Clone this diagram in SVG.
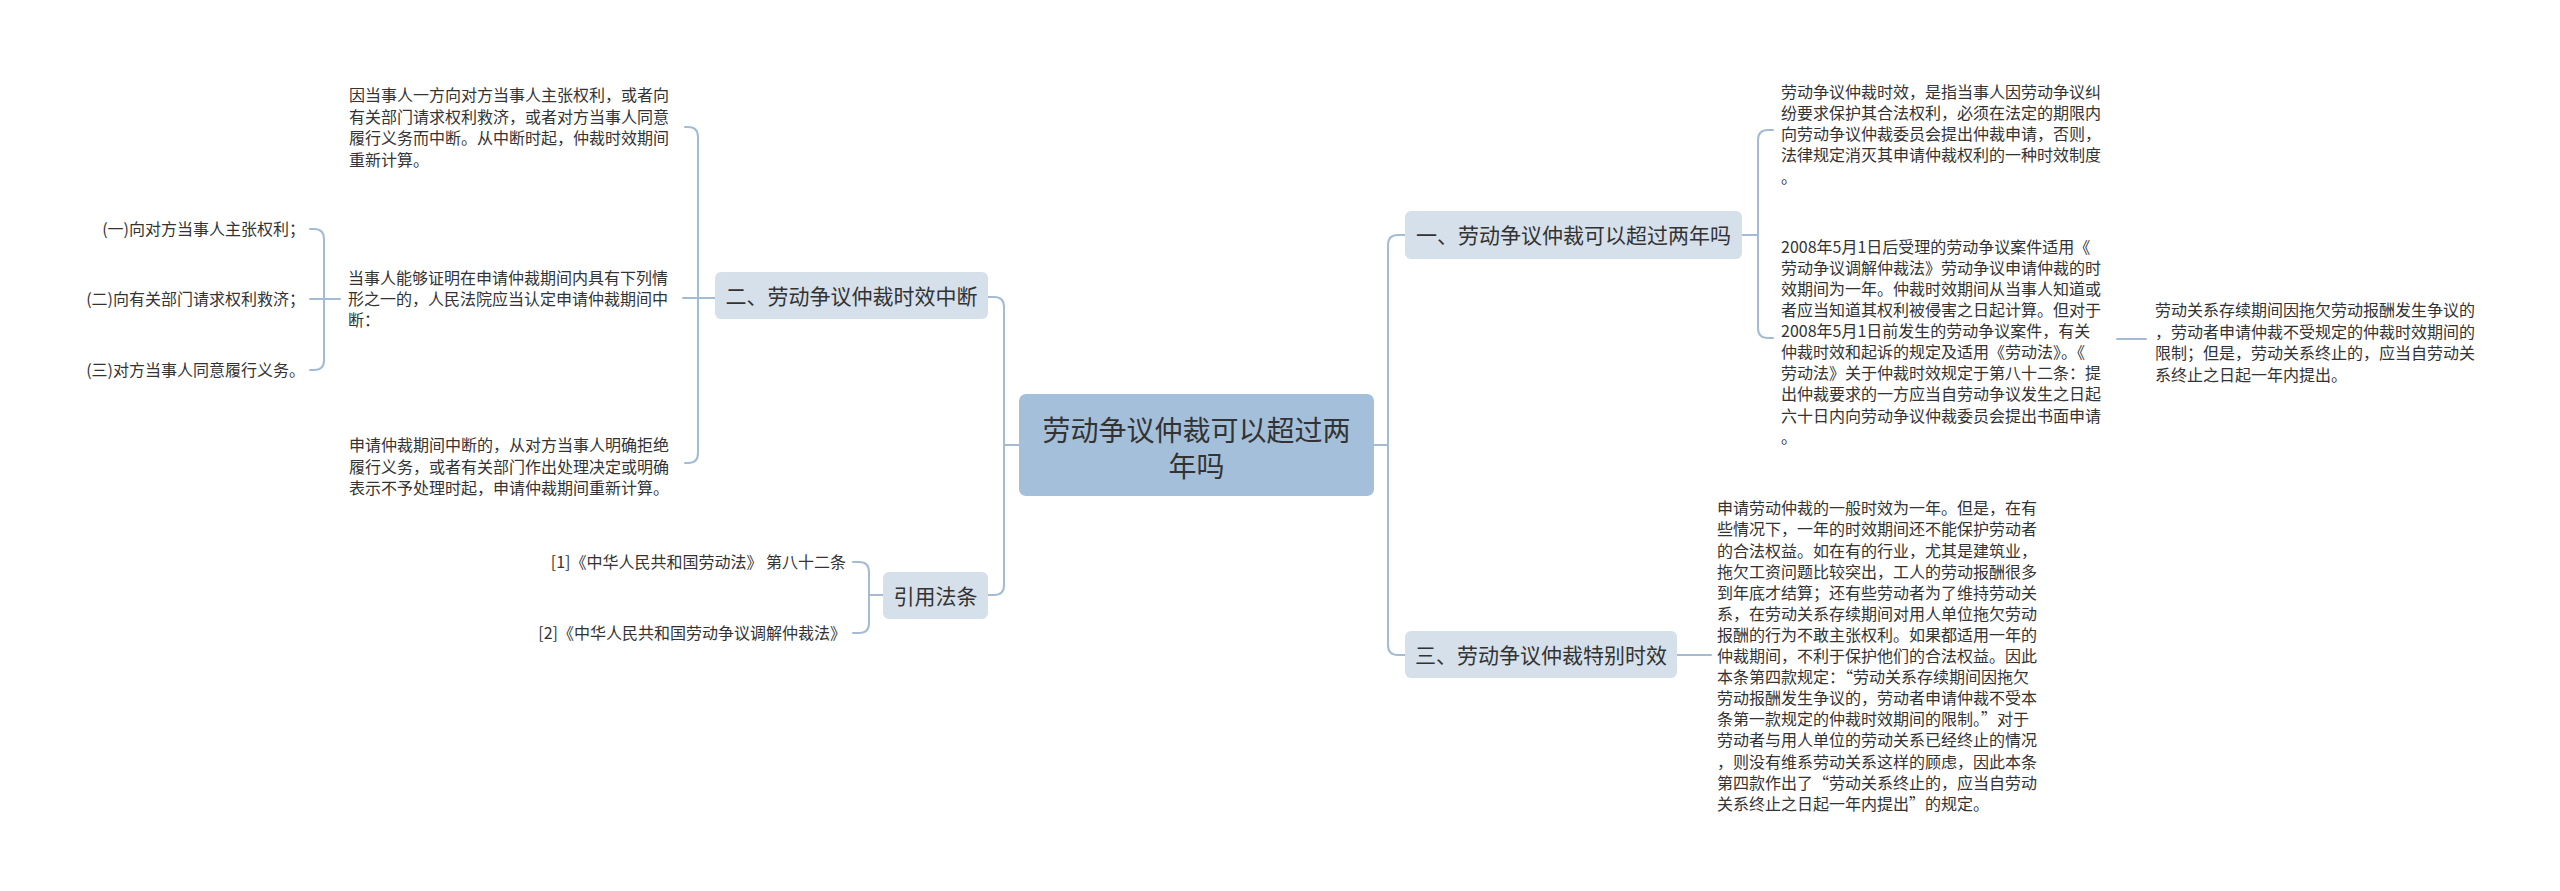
<svg xmlns="http://www.w3.org/2000/svg" width="2560" height="891" viewBox="0 0 2560 891">
<style>
.bg{fill:#ffffff}
.ln{fill:none;stroke:#a3bbd3;stroke-width:2;stroke-linecap:round}
.root{fill:#a4bfda}
.l1{fill:#d5e0ea}
.t{font-family:"Noto Sans CJK SC","Noto Sans",sans-serif;fill:#333333}
.tr{font-size:28px;text-anchor:middle}
.t1{font-size:21px;text-anchor:middle}
.lf{font-size:16px}
.end{text-anchor:end}
</style>
<rect class="bg" x="0" y="0" width="2560" height="891"/>
<g id="connectors">
<path class="ln" d="M1374,445 H1388"/>
<path class="ln" d="M1405,235 H1398 Q1388,235 1388,245 V645 Q1388,655 1398,655 H1405"/>
<path class="ln" d="M1019,445 H1004"/>
<path class="ln" d="M988,297 H994 Q1004,297 1004,307 V585 Q1004,595 994,595 H988"/>
<path class="ln" d="M1742,235 H1758"/>
<path class="ln" d="M1773,130 H1768 Q1758,130 1758,140 V328 Q1758,338 1768,338 H1773"/>
<path class="ln" d="M2117,339 H2146"/>
<path class="ln" d="M1677,655 H1711"/>
<path class="ln" d="M685,127 H688 Q698,127 698,137 V453 Q698,463 688,463 H685"/>
<path class="ln" d="M683,298 H715"/>
<path class="ln" d="M310,229 H314 Q324,229 324,239 V360 Q324,370 314,370 H310"/>
<path class="ln" d="M310,299 H340"/>
<path class="ln" d="M853,562 H859 Q869,562 869,572 V623 Q869,633 859,633 H853"/>
<path class="ln" d="M869,595 H883"/>
</g>
<g id="root">
<rect class="root" x="1019" y="394" width="355" height="102" rx="7"/>
<text class="t tr"><tspan x="1196.5" y="440.5">劳动争议仲裁可以超过两</tspan><tspan x="1196.5" y="476.5">年吗</tspan></text>
</g>
<g id="n1">
<rect class="l1" x="1405" y="211" width="337" height="48" rx="6"/>
<text class="t t1" x="1573.5" y="243">一、劳动争议仲裁可以超过两年吗</text>
</g>
<g id="n1a">
<text class="t lf"><tspan x="1781" y="97.7">劳动争议仲裁时效，是指当事人因劳动争议纠</tspan><tspan x="1781" y="118.9">纷要求保护其合法权利，必须在法定的期限内</tspan><tspan x="1781" y="140.1">向劳动争议仲裁委员会提出仲裁申请，否则，</tspan><tspan x="1781" y="161.3">法律规定消灭其申请仲裁权利的一种时效制度</tspan><tspan x="1781" y="182.5">。</tspan></text>
</g>
<g id="n1b">
<text class="t lf"><tspan x="1781" y="252.7">2008年5月1日后受理的劳动争议案件适用《</tspan><tspan x="1781" y="273.8">劳动争议调解仲裁法》劳动争议申请仲裁的时</tspan><tspan x="1781" y="294.9">效期间为一年。仲裁时效期间从当事人知道或</tspan><tspan x="1781" y="316">者应当知道其权利被侵害之日起计算。但对于</tspan><tspan x="1781" y="337.1">2008年5月1日前发生的劳动争议案件，有关</tspan><tspan x="1781" y="358.2">仲裁时效和起诉的规定及适用《劳动法》。《</tspan><tspan x="1781" y="379.3">劳动法》关于仲裁时效规定于第八十二条：提</tspan><tspan x="1781" y="400.4">出仲裁要求的一方应当自劳动争议发生之日起</tspan><tspan x="1781" y="421.5">六十日内向劳动争议仲裁委员会提出书面申请</tspan><tspan x="1781" y="442.6">。</tspan></text>
</g>
<g id="n1b1">
<text class="t lf"><tspan x="2155" y="316">劳动关系存续期间因拖欠劳动报酬发生争议的</tspan><tspan x="2155" y="337.5">，劳动者申请仲裁不受规定的仲裁时效期间的</tspan><tspan x="2155" y="359">限制；但是，劳动关系终止的，应当自劳动关</tspan><tspan x="2155" y="380.5">系终止之日起一年内提出。</tspan></text>
</g>
<g id="n3">
<rect class="l1" x="1405" y="631" width="272" height="47" rx="6"/>
<text class="t t1" x="1541" y="662.5">三、劳动争议仲裁特别时效</text>
</g>
<g id="n3a">
<text class="t lf"><tspan x="1717" y="514.3">申请劳动仲裁的一般时效为一年。但是，在有</tspan><tspan x="1717" y="535.4">些情况下，一年的时效期间还不能保护劳动者</tspan><tspan x="1717" y="556.5">的合法权益。如在有的行业，尤其是建筑业，</tspan><tspan x="1717" y="577.6">拖欠工资问题比较突出，工人的劳动报酬很多</tspan><tspan x="1717" y="598.7">到年底才结算；还有些劳动者为了维持劳动关</tspan><tspan x="1717" y="619.8">系，在劳动关系存续期间对用人单位拖欠劳动</tspan><tspan x="1717" y="640.9">报酬的行为不敢主张权利。如果都适用一年的</tspan><tspan x="1717" y="662">仲裁期间，不利于保护他们的合法权益。因此</tspan><tspan x="1717" y="683.1">本条第四款规定：“劳动关系存续期间因拖欠</tspan><tspan x="1717" y="704.2">劳动报酬发生争议的，劳动者申请仲裁不受本</tspan><tspan x="1717" y="725.3">条第一款规定的仲裁时效期间的限制。”对于</tspan><tspan x="1717" y="746.4">劳动者与用人单位的劳动关系已经终止的情况</tspan><tspan x="1717" y="767.5">，则没有维系劳动关系这样的顾虑，因此本条</tspan><tspan x="1717" y="788.6">第四款作出了“劳动关系终止的，应当自劳动</tspan><tspan x="1717" y="809.7">关系终止之日起一年内提出”的规定。</tspan></text>
</g>
<g id="n2">
<rect class="l1" x="715" y="272" width="273" height="47" rx="6"/>
<text class="t t1" x="851.5" y="304">二、劳动争议仲裁时效中断</text>
</g>
<g id="n2a">
<text class="t lf"><tspan x="349" y="101">因当事人一方向对方当事人主张权利，或者向</tspan><tspan x="349" y="122.5">有关部门请求权利救济，或者对方当事人同意</tspan><tspan x="349" y="144">履行义务而中断。从中断时起，仲裁时效期间</tspan><tspan x="349" y="165.5">重新计算。</tspan></text>
</g>
<g id="n2b">
<text class="t lf"><tspan x="348" y="284">当事人能够证明在申请仲裁期间内具有下列情</tspan><tspan x="348" y="305">形之一的，人民法院应当认定申请仲裁期间中</tspan><tspan x="348" y="326">断：</tspan></text>
</g>
<g id="n2b1"><text class="t lf end" x="305" y="235">(一)向对方当事人主张权利；</text></g>
<g id="n2b2"><text class="t lf end" x="305" y="305">(二)向有关部门请求权利救济；</text></g>
<g id="n2b3"><text class="t lf end" x="305" y="376">(三)对方当事人同意履行义务。</text></g>
<g id="n2c">
<text class="t lf"><tspan x="349" y="451">申请仲裁期间中断的，从对方当事人明确拒绝</tspan><tspan x="349" y="472.5">履行义务，或者有关部门作出处理决定或明确</tspan><tspan x="349" y="494">表示不予处理时起，申请仲裁期间重新计算。</tspan></text>
</g>
<g id="n4">
<rect class="l1" x="883" y="572" width="105" height="47" rx="6"/>
<text class="t t1" x="935.5" y="603.5">引用法条</text>
</g>
<g id="n4a"><text class="t lf end" x="846" y="568">[1]《中华人民共和国劳动法》 第八十二条</text></g>
<g id="n4b"><text class="t lf end" x="846" y="639">[2]《中华人民共和国劳动争议调解仲裁法》</text></g>
</svg>
